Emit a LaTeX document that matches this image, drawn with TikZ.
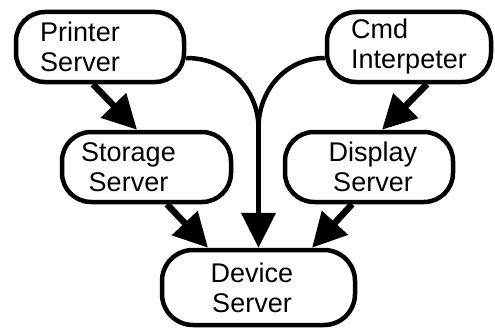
\documentclass[tikz,border=0pt]{standalone}
\usepackage{fontspec}
\setmainfont{Liberation Sans}
\usetikzlibrary{arrows.meta,calc}
\begin{document}
\begin{tikzpicture}[x=1pt,y=-1pt,
  box/.style={draw, line width=4.5pt, rounded corners=29pt, align=center, inner sep=0pt,
    font=\fontsize{27}{30}\selectfont},
  bigarrow/.style={line width=6.5pt, -{Triangle[length=34pt,width=34pt]}},
  curve/.style={line width=4.5pt},
  vert/.style={line width=4.5pt, -{Triangle[length=35pt,width=34pt]}}]
\useasboundingbox (0,0) rectangle (495,329);
\node[box, minimum width=168pt, minimum height=70pt] (ps) at (100,47)
  {Printer\rule{40pt}{0pt}\\Server\rule{40pt}{0pt}};
\node[box, align=left, minimum width=164pt, minimum height=70pt] (ci) at (409,47)
  {Cmd\\Interpeter};
\node[box, minimum width=169pt, minimum height=70pt] (ss) at (146.5,167)
  {Storage\rule{36pt}{0pt}\\Server\rule{36pt}{0pt}};
\node[box, minimum width=168pt, minimum height=70pt] (ds) at (369,167)
  {\rule{8pt}{0pt}Display\\\rule{8pt}{0pt}Server};
\node[box, rounded corners=31pt, minimum width=193pt, minimum height=75pt] (dv) at (258.5,287.5)
  {Device\rule{13pt}{0pt}\\Server\rule{13pt}{0pt}};
\draw[bigarrow] ([xshift=-7pt]ps.south) -- ([xshift=-9.5pt]ss.north);
\draw[bigarrow] ([xshift=18pt]ci.south) -- ([xshift=13pt]ds.north);
\draw[bigarrow] ([xshift=20.5pt]ss.south) -- ([xshift=-50.5pt]dv.north);
\draw[bigarrow] ([xshift=-17pt]ds.south) -- ([xshift=53.5pt]dv.north);
\coordinate (m) at (258.5,128);
\draw[curve] ([yshift=-11pt]ps.east) .. controls +(41,0) and +(0,-39) .. (m);
\draw[curve] ([yshift=-11pt]ci.west) .. controls +(-38,0) and +(0,-39) .. (m);
\draw[vert] (m) -- (dv.north);
\end{tikzpicture}
\end{document}
